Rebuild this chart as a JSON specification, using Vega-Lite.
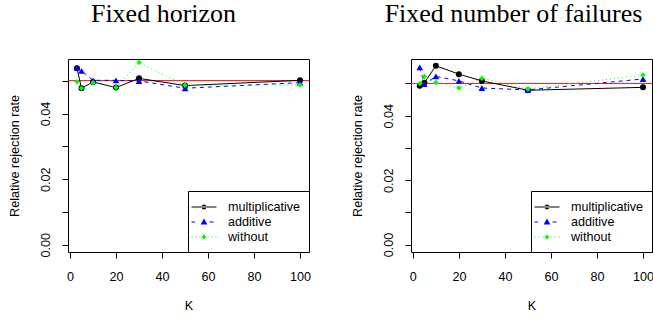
{
  "$schema": "https://vega.github.io/schema/vega-lite/v6.json",
  "padding": {"left": 7, "top": 0, "right": 0, "bottom": 0},
  "background": "white",
  "config": {
    "view": {"stroke": "black", "strokeWidth": 1},
    "font": "Liberation Sans",
    "axis": {
      "labelFont": "Liberation Sans", "labelFontSize": 12.6, "labelColor": "black",
      "titleFont": "Liberation Sans", "titleFontSize": 12.6, "titleFontWeight": "normal", "titleColor": "black",
      "tickColor": "black", "tickSize": 6, "domain": false, "grid": false, "labelFlush": false, "labelOverlap": false
    },
    "axisX": {"labelPadding": 12, "titlePadding": 17},
    "axisY": {"labelPadding": 10, "titlePadding": 18, "labelAngle": 270, "labelAlign": "center", "labelBaseline": "bottom"},
    "legend": {
      "orient": "bottom-right", "offset": 0, "padding": 8, "strokeColor": "black", "fillColor": "white",
      "labelFont": "Liberation Sans", "labelFontSize": 12.6, "labelColor": "black", "labelOffset": 16,
      "rowPadding": 0, "symbolSize": 256, "symbolStrokeWidth": 0, "cornerRadius": 0, "symbolOpacity": 1
    }
  },
  "datasets": {
    "fh": [
      {"K": 3, "rate": 0.0538, "method": "multiplicative"},
      {"K": 5, "rate": 0.0477, "method": "multiplicative"},
      {"K": 10, "rate": 0.0496, "method": "multiplicative"},
      {"K": 20, "rate": 0.0479, "method": "multiplicative"},
      {"K": 30, "rate": 0.0507, "method": "multiplicative"},
      {"K": 50, "rate": 0.0485, "method": "multiplicative"},
      {"K": 100, "rate": 0.0501, "method": "multiplicative"},
      {"K": 3, "rate": 0.0540, "method": "additive"},
      {"K": 5, "rate": 0.0530, "method": "additive"},
      {"K": 10, "rate": 0.0501, "method": "additive"},
      {"K": 20, "rate": 0.0501, "method": "additive"},
      {"K": 30, "rate": 0.0499, "method": "additive"},
      {"K": 50, "rate": 0.0477, "method": "additive"},
      {"K": 100, "rate": 0.0494, "method": "additive"},
      {"K": 3, "rate": 0.0497, "method": "without"},
      {"K": 5, "rate": 0.0477, "method": "without"},
      {"K": 10, "rate": 0.0494, "method": "without"},
      {"K": 20, "rate": 0.0479, "method": "without"},
      {"K": 30, "rate": 0.0555, "method": "without"},
      {"K": 50, "rate": 0.0486, "method": "without"},
      {"K": 100, "rate": 0.0487, "method": "without"}
    ],
    "fnf": [
      {"K": 3, "rate": 0.0493, "method": "multiplicative"},
      {"K": 5, "rate": 0.0502, "method": "multiplicative"},
      {"K": 10, "rate": 0.0555, "method": "multiplicative"},
      {"K": 20, "rate": 0.0529, "method": "multiplicative"},
      {"K": 30, "rate": 0.0508, "method": "multiplicative"},
      {"K": 50, "rate": 0.0479, "method": "multiplicative"},
      {"K": 100, "rate": 0.0488, "method": "multiplicative"},
      {"K": 3, "rate": 0.0550, "method": "additive"},
      {"K": 5, "rate": 0.0498, "method": "additive"},
      {"K": 10, "rate": 0.0522, "method": "additive"},
      {"K": 20, "rate": 0.0508, "method": "additive"},
      {"K": 30, "rate": 0.0486, "method": "additive"},
      {"K": 50, "rate": 0.0480, "method": "additive"},
      {"K": 100, "rate": 0.0514, "method": "additive"},
      {"K": 3, "rate": 0.0500, "method": "without"},
      {"K": 5, "rate": 0.0522, "method": "without"},
      {"K": 10, "rate": 0.0503, "method": "without"},
      {"K": 20, "rate": 0.0486, "method": "without"},
      {"K": 30, "rate": 0.0516, "method": "without"},
      {"K": 50, "rate": 0.0483, "method": "without"},
      {"K": 100, "rate": 0.0526, "method": "without"}
    ],
    "ref": [{"level": 0.05}]
  },
  "spacing": 36,
  "resolve": {
    "scale": {"color": "independent", "shape": "independent"},
    "legend": {"color": "independent", "shape": "independent"}
  },
  "hconcat": [
    {
      "width": 241, "height": 193,
      "title": {"text": "Fixed horizon", "font": "Liberation Serif", "fontSize": 26, "fontWeight": "normal", "color": "black", "anchor": "middle", "frame": "group", "dx": -25, "baseline": "alphabetic", "offset": 11},
      "data": {"name": "fh"},
      "encoding": {
        "x": {"field": "K", "type": "quantitative", "scale": {"domain": [-0.88, 103.88], "nice": false, "zero": false}, "axis": {"values": [0, 20, 40, 60, 80, 100], "title": "K"}},
        "y": {"field": "rate", "type": "quantitative", "scale": {"domain": [-0.00218, 0.0566], "nice": false, "zero": false}, "axis": {"values": [0, 0.01, 0.02, 0.03, 0.04, 0.05], "labelExpr": "round(datum.value*100) % 2 == 0 ? format(datum.value, '.2f') : ''", "title": "Relative rejection rate"}}
      },
      "layer": [
        {
          "data": {"name": "ref"},
          "mark": {"type": "rule", "color": "#ff0000", "strokeWidth": 1},
          "encoding": {"x": null, "y": {"field": "level", "type": "quantitative"}}
        },
        {
          "transform": [{"filter": "datum.method === 'multiplicative'"}],
          "mark": {"type": "line", "strokeWidth": 1, "color": "black"}
        },
        {
          "transform": [{"filter": "datum.method === 'additive'"}],
          "mark": {"type": "line", "strokeWidth": 1, "color": "blue", "strokeDash": [4, 4]}
        },
        {
          "transform": [{"filter": "datum.method === 'without'"}],
          "mark": {"type": "line", "strokeWidth": 1, "color": "#00ff00", "strokeDash": [1, 3]}
        },
        {
          "transform": [{"filter": "datum.method === 'multiplicative'"}],
          "mark": {"type": "point", "filled": true, "opacity": 1, "size": 36, "shape": "circle", "color": "black"}
        },
        {
          "transform": [{"filter": "datum.method === 'additive'"}],
          "mark": {"type": "point", "filled": true, "opacity": 1, "size": 45, "shape": "triangle-up", "color": "blue"}
        },
        {
          "transform": [{"filter": "datum.method === 'without'"}],
          "mark": {"type": "point", "filled": true, "opacity": 1, "size": 30, "shape": "diamond", "color": "#00ff00"}
        },
        {
          "mark": {"type": "point", "filled": true, "opacity": 0, "size": 256},
          "encoding": {
            "color": {"field": "method", "type": "nominal", "scale": {"domain": ["multiplicative", "additive", "without"], "range": ["black", "blue", "#00ff00"]}, "legend": {"title": null}},
            "shape": {"field": "method", "type": "nominal",
              "scale": {"domain": ["multiplicative", "additive", "without"], "range": [
                "M-1.56,-0.0625H1.56V0.0625H-1.56Z M-0.31,0A0.31,0.31 0 1,0 0.31,0A0.31,0.31 0 1,0 -0.31,0Z",
                "M-1.56,-0.0625H-1.12V0.0625H-1.56Z M0.69,-0.0625H1.19V0.0625H0.69Z M0,-0.44L0.42,0.3L-0.42,0.3Z",
                "M-1.56,-0.0625H-1.44V0.0625H-1.56Z M-1.06,-0.0625H-0.94V0.0625H-1.06Z M-0.56,-0.0625H-0.44V0.0625H-0.56Z M0.44,-0.0625H0.56V0.0625H0.44Z M0.94,-0.0625H1.06V0.0625H0.94Z M1.44,-0.0625H1.56V0.0625H1.44Z M0,-0.34L0.3,0L0,0.34L-0.3,0Z"
              ]},
              "legend": {"title": null}
            }
          }
        }
      ]
    },
    {
      "width": 241, "height": 193,
      "title": {"text": "Fixed number of failures", "font": "Liberation Serif", "fontSize": 26, "fontWeight": "normal", "color": "black", "anchor": "middle", "frame": "group", "dx": -18, "baseline": "alphabetic", "offset": 11},
      "data": {"name": "fnf"},
      "encoding": {
        "x": {"field": "K", "type": "quantitative", "scale": {"domain": [-0.8, 103.9], "nice": false, "zero": false}, "axis": {"values": [0, 20, 40, 60, 80, 100], "title": "K"}},
        "y": {"field": "rate", "type": "quantitative", "scale": {"domain": [-0.0023, 0.0576], "nice": false, "zero": false}, "axis": {"values": [0, 0.01, 0.02, 0.03, 0.04, 0.05], "labelExpr": "round(datum.value*100) % 2 == 0 ? format(datum.value, '.2f') : ''", "title": "Relative rejection rate"}}
      },
      "layer": [
        {
          "data": {"name": "ref"},
          "mark": {"type": "rule", "color": "#ff2020", "strokeWidth": 1},
          "encoding": {"x": null, "y": {"field": "level", "type": "quantitative"}}
        },
        {
          "transform": [{"filter": "datum.method === 'multiplicative'"}],
          "mark": {"type": "line", "strokeWidth": 1, "color": "black"}
        },
        {
          "transform": [{"filter": "datum.method === 'additive'"}],
          "mark": {"type": "line", "strokeWidth": 1, "color": "blue", "strokeDash": [4, 4]}
        },
        {
          "transform": [{"filter": "datum.method === 'without'"}],
          "mark": {"type": "line", "strokeWidth": 1, "color": "#00ff00", "strokeDash": [1, 3]}
        },
        {
          "transform": [{"filter": "datum.method === 'multiplicative'"}],
          "mark": {"type": "point", "filled": true, "opacity": 1, "size": 36, "shape": "circle", "color": "black"}
        },
        {
          "transform": [{"filter": "datum.method === 'additive'"}],
          "mark": {"type": "point", "filled": true, "opacity": 1, "size": 45, "shape": "triangle-up", "color": "blue"}
        },
        {
          "transform": [{"filter": "datum.method === 'without'"}],
          "mark": {"type": "point", "filled": true, "opacity": 1, "size": 30, "shape": "diamond", "color": "#00ff00"}
        },
        {
          "mark": {"type": "point", "filled": true, "opacity": 0, "size": 256},
          "encoding": {
            "color": {"field": "method", "type": "nominal", "scale": {"domain": ["multiplicative", "additive", "without"], "range": ["black", "blue", "#00ff00"]}, "legend": {"title": null}},
            "shape": {"field": "method", "type": "nominal",
              "scale": {"domain": ["multiplicative", "additive", "without"], "range": [
                "M-1.56,-0.0625H1.56V0.0625H-1.56Z M-0.31,0A0.31,0.31 0 1,0 0.31,0A0.31,0.31 0 1,0 -0.31,0Z",
                "M-1.56,-0.0625H-1.12V0.0625H-1.56Z M0.69,-0.0625H1.19V0.0625H0.69Z M0,-0.44L0.42,0.3L-0.42,0.3Z",
                "M-1.56,-0.0625H-1.44V0.0625H-1.56Z M-1.06,-0.0625H-0.94V0.0625H-1.06Z M-0.56,-0.0625H-0.44V0.0625H-0.56Z M0.44,-0.0625H0.56V0.0625H0.44Z M0.94,-0.0625H1.06V0.0625H0.94Z M1.44,-0.0625H1.56V0.0625H1.44Z M0,-0.34L0.3,0L0,0.34L-0.3,0Z"
              ]},
              "legend": {"title": null}
            }
          }
        }
      ]
    }
  ]
}
